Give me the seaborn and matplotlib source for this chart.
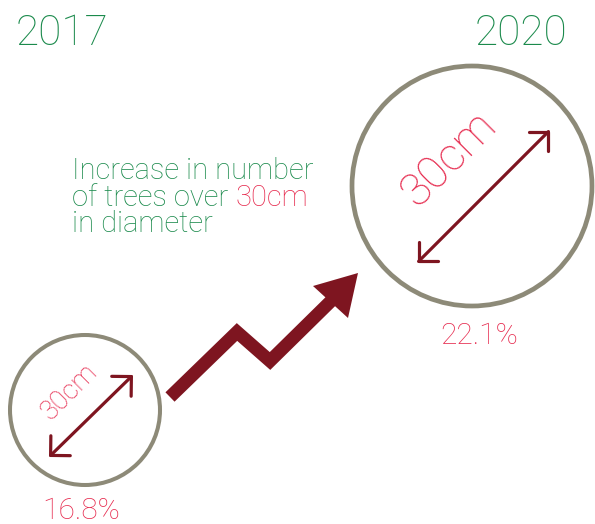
import matplotlib
matplotlib.use("Agg")
import matplotlib.pyplot as plt
import matplotlib.patches as mpatches
import seaborn as sns

# data read from the infographic
years = ["2017", "2020"]
shares = [16.8, 22.1]          # % of trees over 30cm in diameter
diameter_label = "30cm"
caption = ["Increase in number", "of trees over ", "in diameter"]

GREEN = "#1b8a4c"
PINK = "#e62a4e"
MAROON = "#7e1520"
GREY = "#8d8a78"

# layout (pixel units, y down)
circle_centers = [(85, 410), (472, 186)]
circle_radii = [75, 120]
circle_lw = [2.9, 3.4]
arrow_ends = [((49, 457), (133, 375)), ((417, 263), (550, 130))]
label_centers = [(69, 392), (449, 158)]
label_sizes = [19.5, 33]
pct_pos = [(81, 519), (479, 344)]
zig_x = [170, 237, 270, 331]
zig_y = [397, 332, 361, 301]
head = [(358, 273), (313, 286), (348, 318)]

sns.set_style("white")
plt.rcParams["font.family"] = ["Roboto", "DejaVu Sans"]
W = "light"

fig = plt.figure(figsize=(5.95, 5.24), dpi=100)
ax = fig.add_axes([0, 0, 1, 1])
ax.set_xlim(0, 595)
ax.set_ylim(524, 0)
ax.axis("off")

# year headings
ax.text(16, 45, years[0], color=GREEN, fontsize=30.5, fontweight=W, ha="left", va="baseline")
ax.text(567, 45, years[1], color=GREEN, fontsize=30.5, fontweight=W, ha="right", va="baseline")

for i in range(2):
    ax.add_patch(mpatches.Circle(circle_centers[i], circle_radii[i], fill=False,
                                 ec=GREY, lw=circle_lw[i]))
    a, b = arrow_ends[i]
    ax.annotate("", xy=b, xytext=a,
                arrowprops=dict(arrowstyle="<->,head_length=0.5,head_width=0.5",
                                color=MAROON, lw=2.3, mutation_scale=20,
                                shrinkA=0, shrinkB=0))
    cx, cy = label_centers[i]
    ax.text(cx, cy, diameter_label, color=PINK, fontsize=label_sizes[i], fontweight=W,
            rotation=45, rotation_mode="anchor", ha="center", va="center")
    px, py = pct_pos[i]
    ax.text(px, py, f"{shares[i]}%", color=PINK, fontsize=21.5, fontweight=W,
            ha="center", va="baseline")

# zigzag growth arrow
ax.plot(zig_x, zig_y, color=MAROON, lw=9.4, solid_joinstyle="miter", solid_capstyle="butt")
ax.add_patch(mpatches.Polygon(head, closed=True, color=MAROON, lw=0))

# caption
cap_size = 21
ax.text(72, 179, caption[0], color=GREEN, fontsize=cap_size, fontweight=W, va="baseline")
t2 = ax.text(72, 206, caption[1], color=GREEN, fontsize=cap_size, fontweight=W, va="baseline")
ax.annotate(diameter_label, xy=(1, 0), xycoords=t2, color=PINK, fontsize=cap_size,
            fontweight=W, va="bottom", ha="left")
ax.text(72, 232, caption[2], color=GREEN, fontsize=cap_size, fontweight=W, va="baseline")

fig.savefig("out.png", dpi=100)
